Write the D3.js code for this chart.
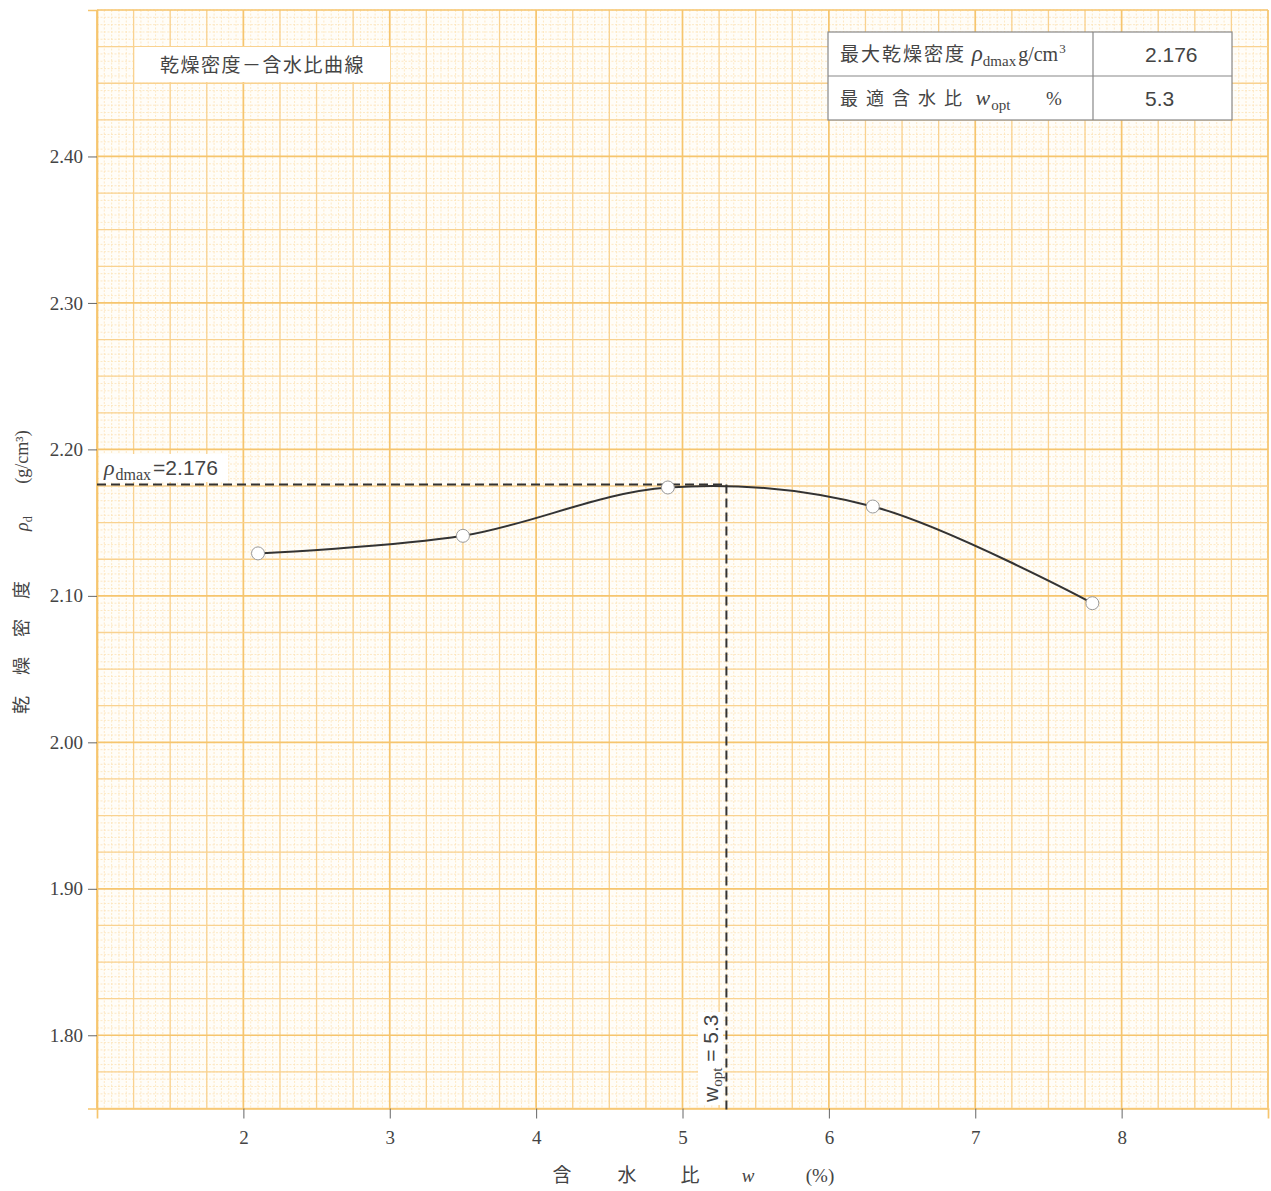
<!DOCTYPE html>
<html>
<head>
<meta charset="utf-8">
<script src="https://cdn.jsdelivr.net/npm/d3@7"></script>
<style>
  body { margin: 0; background: #fff; }
  svg text { fill: #444; }
</style>
</head>
<body>
<div id="chart"></div>
<script>
// data read from the sheet
const waterContent = [2.1, 3.5, 4.9, 6.3, 7.8];          // w (%)
const dryDensity = [2.129, 2.141, 2.174, 2.161, 2.095];  // rho_d (g/cm3)
const xTicks = [2, 3, 4, 5, 6, 7, 8];
const yTicks = [1.80, 1.90, 2.00, 2.10, 2.20, 2.30, 2.40];
const rhoDmax = 2.176;
const wOpt = 5.3;

const width = 1271, height = 1191;
const svg = d3.select('#chart').append('svg')
    .attr('width', width)
    .attr('height', height);

const x = d3.scaleLinear().domain([1, 9]).range([97, 1268]);
const y = d3.scaleLinear().domain([1.75, 2.50]).range([1108.5, 10]);

// graph paper
const paper = svg.append('g').attr('class', 'paper');
paper.append('rect')
    .attr('x', x(1)).attr('y', y(2.5))
    .attr('width', x(9) - x(1)).attr('height', y(1.75) - y(2.5))
    .attr('fill', '#fffdf8');

const xFine = d3.range(1, 9.0001, 0.05);
const yFine = d3.range(1.75, 2.50001, 0.005);
paper.selectAll('.vf').data(xFine).enter().append('line')
    .attr('x1', d => x(d)).attr('x2', d => x(d))
    .attr('y1', y(2.5)).attr('y2', y(1.75))
    .attr('stroke', '#fce3b8').attr('stroke-width', 0.8)
    .attr('stroke-dasharray', '2,1.5');
paper.selectAll('.hf').data(yFine).enter().append('line')
    .attr('y1', d => y(d)).attr('y2', d => y(d))
    .attr('x1', x(1)).attr('x2', x(9))
    .attr('stroke', '#fce3b8').attr('stroke-width', 0.8)
    .attr('stroke-dasharray', '2,1.5');

const xMid = d3.range(1, 9.0001, 0.25);
const yMid = d3.range(1.75, 2.50001, 0.025);
paper.selectAll('.vm').data(xMid).enter().append('line')
    .attr('x1', d => x(d)).attr('x2', d => x(d))
    .attr('y1', y(2.5)).attr('y2', y(1.75))
    .attr('stroke', function(d){
        return Math.abs(d - Math.round(d)) < 1e-6 ? '#f6c56e' : '#f9d290';
    })
    .attr('stroke-width', function(d){
        return Math.abs(d - Math.round(d)) < 1e-6 ? 1.7 : 1.3;
    });
paper.selectAll('.hm').data(yMid).enter().append('line')
    .attr('y1', d => y(d)).attr('y2', d => y(d))
    .attr('x1', x(1)).attr('x2', x(9))
    .attr('stroke', function(d){
        return Math.abs(d * 10 - Math.round(d * 10)) < 1e-6 ? '#f6c56e' : '#f9d290';
    })
    .attr('stroke-width', function(d){
        return Math.abs(d * 10 - Math.round(d * 10)) < 1e-6 ? 1.7 : 1.3;
    });

// axes
const serif = '"Liberation Serif", "DejaVu Serif", serif';
const sans = '"Liberation Sans", Arial, sans-serif';
const cjk = '"Noto Sans CJK JP", sans-serif';

const yAxis = svg.append('g')
    .attr('transform', `translate(${x(1)},0)`)
    .call(d3.axisLeft(y).tickValues(yTicks).tickFormat(d3.format('.2f')).tickSize(9).tickPadding(5));
const xAxis = svg.append('g')
    .attr('transform', `translate(0,${y(1.75)})`)
    .call(d3.axisBottom(x).tickValues(xTicks).tickFormat(d3.format('d')).tickSize(10).tickPadding(12));
[yAxis, xAxis].forEach(function(a){
    a.select('.domain').attr('stroke', '#f6c56e').attr('stroke-width', 1.7);
    a.selectAll('.tick line').attr('stroke', '#666');
    a.selectAll('.tick text')
        .style('font-family', serif)
        .style('font-size', '19px')
        .attr('fill', '#555');
});

// dashed guides
svg.append('line')
    .attr('x1', x(1)).attr('x2', x(wOpt))
    .attr('y1', y(rhoDmax)).attr('y2', y(rhoDmax))
    .attr('stroke', '#333').attr('stroke-width', 2)
    .attr('stroke-dasharray', '9,5');
svg.append('line')
    .attr('x1', x(wOpt)).attr('x2', x(wOpt))
    .attr('y1', y(rhoDmax)).attr('y2', y(1.75) + 4)
    .attr('stroke', '#333').attr('stroke-width', 2)
    .attr('stroke-dasharray', '9,5');

// compaction curve
const pts = waterContent.map((w, i) => [w, dryDensity[i]]);
const line = d3.line()
    .x(d => x(d[0]))
    .y(d => y(d[1]))
    .curve(d3.curveCatmullRom.alpha(0.5));
svg.append('path')
    .datum(pts)
    .attr('d', line)
    .attr('fill', 'none')
    .attr('stroke', '#333')
    .attr('stroke-width', 2);

svg.selectAll('.pt').data(pts).enter().append('circle')
    .attr('cx', d => x(d[0]))
    .attr('cy', d => y(d[1]))
    .attr('r', 6.5)
    .attr('fill', '#fff')
    .attr('stroke', '#999')
    .attr('stroke-width', 1);

// rho_dmax label
svg.append('rect')
    .attr('x', 100).attr('y', 454).attr('width', 128).attr('height', 28)
    .attr('fill', '#fff');
const rl = svg.append('text').attr('x', 104).attr('y', 475);
rl.append('tspan').text('ρ').style('font-family', serif).style('font-style', 'italic').style('font-size', '22px');
rl.append('tspan').text('dmax').attr('dx', 1).attr('dy', 5).style('font-family', serif).style('font-size', '16px');
rl.append('tspan').text('=2.176').attr('dx', 2).attr('dy', -5).style('font-family', sans).style('font-size', '21px');

// w_opt label (rotated)
svg.append('rect')
    .attr('x', 698).attr('y', 1012).attr('width', 25).attr('height', 93)
    .attr('fill', '#fff');
const wl = svg.append('text')
    .attr('transform', `translate(718,1102) rotate(-90)`);
wl.append('tspan').text('w').style('font-family', sans).style('font-size', '21px');
wl.append('tspan').text('opt').attr('dy', 4).style('font-family', serif).style('font-size', '15px');
wl.append('tspan').text(' = 5.3').attr('dy', -4).style('font-family', sans).style('font-size', '21px');

// title box
svg.append('rect')
    .attr('x', 135).attr('y', 47).attr('width', 255).attr('height', 35)
    .attr('fill', '#fff');
svg.append('text')
    .attr('x', 160).attr('y', 72)
    .style('font-family', cjk).style('font-size', '19px')
    .style('letter-spacing', '1.5px')
    .attr('fill', '#333')
    .text('乾燥密度－含水比曲線');

// result table
const tbl = svg.append('g');
tbl.append('rect')
    .attr('x', 828).attr('y', 32).attr('width', 404).attr('height', 88)
    .attr('fill', '#fff').attr('stroke', '#888').attr('stroke-width', 1.2);
tbl.append('line').attr('x1', 828).attr('x2', 1232).attr('y1', 76).attr('y2', 76)
    .attr('stroke', '#888').attr('stroke-width', 1.2);
tbl.append('line').attr('x1', 1093).attr('x2', 1093).attr('y1', 32).attr('y2', 120)
    .attr('stroke', '#888').attr('stroke-width', 1.2);

const r1 = tbl.append('text').attr('x', 840).attr('y', 61).attr('fill', '#333');
r1.append('tspan').text('最大乾燥密度').style('font-family', cjk).style('font-size', '19px').style('letter-spacing', '2px');
r1.append('tspan').text(' ρ').style('font-family', serif).style('font-style', 'italic').style('font-size', '23px');
r1.append('tspan').text('dmax').attr('dy', 5).style('font-family', serif).style('font-size', '15px');
r1.append('tspan').text('g/cm').attr('dx', 2).attr('dy', -5).style('font-family', serif).style('font-size', '20px');
r1.append('tspan').text('3').attr('dx', 1).attr('dy', -8).style('font-family', serif).style('font-size', '13px');

const r2 = tbl.append('text').attr('x', 840).attr('y', 105).attr('fill', '#333');
r2.append('tspan').text('最適含水比').style('font-family', cjk).style('font-size', '18px').style('letter-spacing', '8px');
r2.append('tspan').text(' w').style('font-family', serif).style('font-style', 'italic').style('font-size', '22px');
r2.append('tspan').text('opt').attr('dx', 1).attr('dy', 5).style('font-family', serif).style('font-size', '15px');
r2.append('tspan').text('%').attr('x', 1046).attr('dy', -5).style('font-family', serif).style('font-size', '19px');

tbl.append('text').attr('x', 1145).attr('y', 62)
    .style('font-family', sans).style('font-size', '21px').attr('fill', '#333')
    .text(d3.format('.3f')(rhoDmax));
tbl.append('text').attr('x', 1145).attr('y', 106)
    .style('font-family', sans).style('font-size', '21px').attr('fill', '#333')
    .text(d3.format('.1f')(wOpt));

// axis titles
const xt = [
    {t: '含', x: 562, f: cjk, s: 'normal'},
    {t: '水', x: 627, f: cjk, s: 'normal'},
    {t: '比', x: 690, f: cjk, s: 'normal'},
    {t: 'w', x: 748, f: serif, s: 'italic'},
    {t: '(%)', x: 820, f: serif, s: 'normal'}
];
svg.selectAll('.xt').data(xt).enter().append('text')
    .attr('x', d => d.x).attr('y', 1182)
    .attr('text-anchor', 'middle')
    .style('font-family', d => d.f).style('font-style', d => d.s)
    .style('font-size', '19px')
    .attr('fill', '#555')
    .text(d => d.t);

const yt = [
    {t: '乾', y: 705, f: cjk, s: 'normal'},
    {t: '燥', y: 666, f: cjk, s: 'normal'},
    {t: '密', y: 628, f: cjk, s: 'normal'},
    {t: '度', y: 590, f: cjk, s: 'normal'},
    {t: '(g/cm³)', y: 457, f: serif, s: 'normal'}
];
svg.selectAll('.yt').data(yt).enter().append('text')
    .attr('transform', d => `translate(28,${d.y}) rotate(-90)`)
    .attr('text-anchor', 'middle')
    .style('font-family', d => d.f).style('font-style', d => d.s)
    .style('font-size', '18px')
    .attr('fill', '#555')
    .text(d => d.t);
const rd = svg.append('text')
    .attr('transform', 'translate(28,531) rotate(-90)')
    .attr('fill', '#555');
rd.append('tspan').text('ρ').style('font-family', serif).style('font-style', 'italic').style('font-size', '18px');
rd.append('tspan').text('d').attr('dy', 4).style('font-family', serif).style('font-size', '12px');
</script>
</body>
</html>
